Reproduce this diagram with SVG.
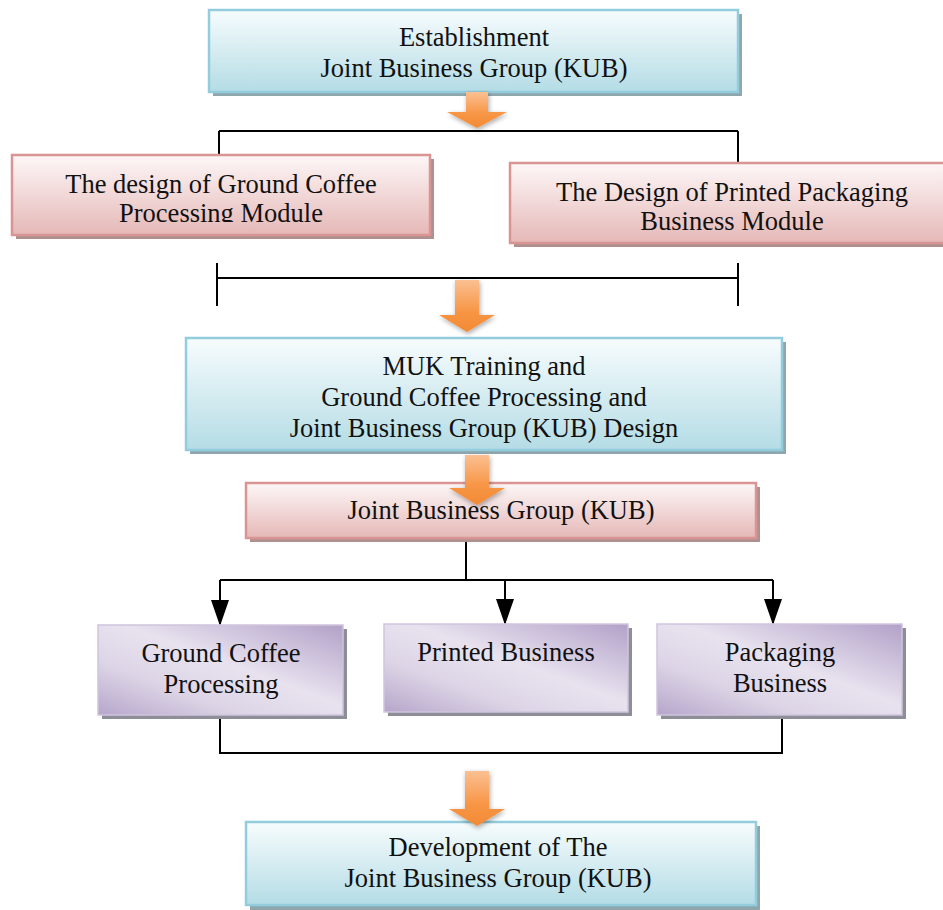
<svg xmlns="http://www.w3.org/2000/svg" width="943" height="910" viewBox="0 0 943 910">
<defs>
<linearGradient id="gBlue" x1="0" y1="0" x2="0" y2="1"><stop offset="0" stop-color="#f7fcfd"/><stop offset="1" stop-color="#b4dce5"/></linearGradient>
<linearGradient id="gPink" x1="0" y1="0" x2="0" y2="1"><stop offset="0" stop-color="#fdf7f7"/><stop offset="1" stop-color="#e5b8b7"/></linearGradient>
<linearGradient id="gPurple" x1="0" y1="1" x2="1" y2="0"><stop offset="0" stop-color="#b6a6cb"/><stop offset="0.3" stop-color="#ddd5e6"/><stop offset="0.55" stop-color="#e8e2ef"/><stop offset="1" stop-color="#b2a1c8"/></linearGradient>
<linearGradient id="gOrange" x1="0" y1="0" x2="0" y2="1"><stop offset="0" stop-color="#fbc092"/><stop offset="0.6" stop-color="#f79646"/><stop offset="1" stop-color="#f28a35"/></linearGradient>
<filter id="glow" x="-50%" y="-50%" width="200%" height="200%"><feGaussianBlur in="SourceAlpha" stdDeviation="2.5"/><feOffset dx="1" dy="2"/><feComponentTransfer><feFuncA type="linear" slope="0.35"/></feComponentTransfer><feMerge><feMergeNode/><feMergeNode in="SourceGraphic"/></feMerge></filter>
<marker id="ah" markerWidth="26" markerHeight="18" refX="24" refY="9" orient="auto" markerUnits="userSpaceOnUse" viewBox="0 0 26 18"><path d="M0,0 L26,9 L0,18 Z" fill="#000"/></marker>
<clipPath id="clip2"><rect x="12" y="155" width="420" height="67"/></clipPath>
</defs>
<style>
.t{font-family:"Liberation Serif","Times New Roman",serif;font-size:26.5px;fill:#111;text-anchor:middle}
.blue{fill:url(#gBlue);stroke:#93cddd;stroke-width:2.5}
.pink{fill:url(#gPink);stroke:#d99594;stroke-width:2.5}
.purple{fill:url(#gPurple);stroke:#cfc5dd;stroke-width:1.5}
.shB{fill:#8ea7ae}
.shP{fill:#b0908f}
.shU{fill:#8e8e99}
.ln{stroke:#000;stroke-width:2;fill:none}
.oa{fill:url(#gOrange);filter:url(#glow)}
</style>

<g id="connectors">
<path class="ln" d="M219,131 H738 M219,131 V155 M738,131 V163"/>
<path class="ln" d="M217,278 H738 M217,263 V306 M738,263 V306"/>
<path class="ln" d="M466,540 V580 M220,580 H773"/>
<path class="ln" d="M220,580 V624" marker-end="url(#ah)"/>
<path class="ln" d="M505,580 V623" marker-end="url(#ah)"/>
<path class="ln" d="M773,580 V623" marker-end="url(#ah)"/>
<path class="ln" d="M220,716 V753 H782 V716"/>
</g>

<g id="n1">
<rect class="shB" x="213" y="14" width="529" height="82"/>
<rect class="blue" x="209" y="10" width="529" height="82"/>
<text class="t" x="474" y="46">Establishment</text>
<text class="t" x="474" y="77">Joint Business Group (KUB)</text>
</g>

<g id="n2">
<rect class="shP" x="16" y="159" width="418" height="80"/>
<rect class="pink" x="12" y="155" width="418" height="80"/>
<g clip-path="url(#clip2)">
<text class="t" x="221" y="193">The design of Ground Coffee</text>
<text class="t" x="221" y="222">Processing Module</text>
</g>
</g>

<g id="n3">
<rect class="shP" x="514" y="167" width="433" height="80"/>
<rect class="pink" x="510" y="163" width="440" height="80"/>
<text class="t" x="732" y="201">The Design of Printed Packaging</text>
<text class="t" x="732" y="230">Business Module</text>
</g>

<g id="n4">
<rect class="shB" x="190" y="342" width="596" height="112"/>
<rect class="blue" x="186" y="338" width="596" height="112"/>
<text class="t" x="484" y="375">MUK Training and</text>
<text class="t" x="484" y="406">Ground Coffee Processing and</text>
<text class="t" x="484" y="437">Joint Business Group (KUB) Design</text>
</g>

<g id="n5">
<rect class="shP" x="250" y="487" width="510" height="55"/>
<rect class="pink" x="246" y="483" width="510" height="55"/>
<text class="t" x="501" y="519">Joint Business Group (KUB)</text>
</g>

<g id="n6">
<rect class="shU" x="102" y="629" width="245" height="90"/>
<rect class="purple" x="98" y="625" width="245" height="90"/>
<text class="t" x="221" y="662">Ground Coffee</text>
<text class="t" x="221" y="693">Processing</text>
</g>

<g id="n7">
<rect class="shU" x="388" y="628" width="244" height="88"/>
<rect class="purple" x="384" y="624" width="244" height="88"/>
<text class="t" x="506" y="661">Printed Business</text>
</g>

<g id="n8">
<rect class="shU" x="661" y="628" width="245" height="91"/>
<rect class="purple" x="657" y="624" width="245" height="91"/>
<text class="t" x="780" y="661">Packaging</text>
<text class="t" x="780" y="692">Business</text>
</g>

<g id="n9">
<rect class="shB" x="250" y="826" width="510" height="84"/>
<rect class="blue" x="246" y="822" width="510" height="83"/>
<text class="t" x="498" y="856">Development of The</text>
<text class="t" x="498" y="887">Joint Business Group (KUB)</text>
</g>

<g id="arrows">
<path class="oa" d="M466,92 H488 V112 H507 L477,128 L447,112 H466 Z"/>
<path class="oa" d="M455,280 H479 V315 H495 L467,332 L439,315 H455 Z"/>
<path class="oa" d="M465,455 H489 V488 H505 L477,505 L449,488 H465 Z"/>
<path class="oa" d="M465,771 H489 V809 H505 L477,826 L449,809 H465 Z"/>
</g>
</svg>
